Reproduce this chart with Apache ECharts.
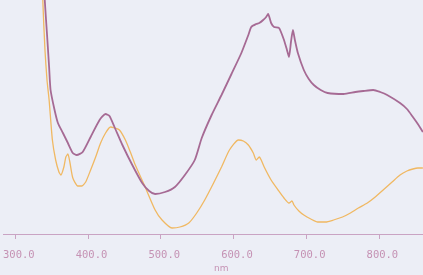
<!DOCTYPE html>
<html><head><meta charset="utf-8">
<script src="https://cdn.jsdelivr.net/npm/echarts@6/dist/echarts.min.js"></script>
<style>html,body{margin:0;padding:0;background:#eceef6;}#c{width:423px;height:275px;}</style>
</head><body><div id="c"></div>
<script>
// wavelength (nm), absorbance (arbitrary units)
var purpleSeries = [
[338.2,2.74],[340.5,2.34],[343.5,2.01],[346.5,1.67],[348.5,1.44],[354.0,1.24],[358.6,1.11],[365.5,1.01],
[372.3,0.91],[379.1,0.81],[384.5,0.79],[392.7,0.82],[403.6,0.97],[415.9,1.14],[424.1,1.20],[429.5,1.18],
[436.4,1.07],[447.3,0.89],[460.9,0.69],[474.5,0.51],[484.1,0.43],[492.3,0.40],[505.9,0.42],[519.5,0.47],
[533.2,0.59],[546.8,0.74],[556.4,0.96],[570.0,1.19],[583.6,1.39],[597.3,1.60],[610.9,1.81],[620.5,1.99],
[624.5,2.07],[631.4,2.10],[635.5,2.11],[640.9,2.14],[645.0,2.17],[647.7,2.20],[651.8,2.11],[655.9,2.07],
[662.7,2.06],[669.5,1.94],[673.6,1.84],[676.4,1.77],[679.1,1.92],[681.8,2.04],[684.5,1.94],[688.6,1.81],
[696.8,1.64],[703.6,1.55],[710.5,1.49],[720.0,1.44],[729.5,1.41],[751.4,1.40],[767.7,1.42],[778.6,1.43],
[792.3,1.44],[801.8,1.42],[811.4,1.39],[829.1,1.31],[838.6,1.25],[846.8,1.17],[853.6,1.10],[860.5,1.02]
];
var orangeSeries = [
[337.0,2.74],[337.8,2.34],[340.8,1.84],[343.6,1.54],[346.5,1.34],[351.0,0.94],[355.5,0.74],[360.0,0.62],
[362.7,0.59],[366.8,0.67],[369.5,0.77],[372.3,0.80],[375.0,0.72],[379.1,0.56],[385.9,0.48],[391.4,0.48],
[396.8,0.52],[403.6,0.64],[410.5,0.77],[417.3,0.91],[424.1,1.01],[430.9,1.07],[436.4,1.06],[443.2,1.04],
[451.4,0.94],[458.2,0.82],[465.0,0.69],[478.6,0.47],[492.3,0.24],[501.8,0.14],[515.5,0.06],[526.4,0.07],
[538.6,0.11],[549.5,0.21],[560.5,0.34],[572.7,0.51],[583.6,0.67],[594.5,0.84],[606.8,0.94],[613.6,0.93],
[620.5,0.89],[627.3,0.81],[631.4,0.74],[635.5,0.77],[638.2,0.74],[642.3,0.67],[651.8,0.54],[661.4,0.44],
[669.5,0.36],[676.4,0.31],[680.5,0.33],[683.2,0.29],[690.0,0.23],[696.8,0.19],[706.4,0.15],[715.9,0.12],
[726.8,0.12],[737.7,0.14],[750.0,0.17],[760.9,0.21],[771.8,0.26],[784.1,0.31],[795.0,0.37],[805.9,0.44],
[818.2,0.52],[829.1,0.59],[838.6,0.63],[846.8,0.65],[853.6,0.66],[860.5,0.66]
];
var tickValues = [300, 400, 500, 600, 700, 800];
var axisName = 'nm';

var chart = echarts.init(document.getElementById('c'));
chart.setOption({
  backgroundColor: '#eceef6',
  animation: false,
  grid: {left: 0, right: 0, top: 0, bottom: 41},
  xAxis: {
    type: 'value', min: 283.6, max: 860.7,
    axisLine: {show: true, onZero: false, lineStyle: {color: '#c9a3c3', width: 1}},
    axisTick: {show: true, customValues: tickValues, length: 5, lineStyle: {color: '#c9a3c3'}},
    axisLabel: {customValues: tickValues, margin: 16, color: '#c592b4', fontFamily: 'DejaVu Sans Mono', fontSize: 10.5,
      padding: [0, 0, 0, 7], formatter: function (v) { return v.toFixed(1); }},
    splitLine: {show: false}
  },
  yAxis: {type: 'value', min: 0, max: 2.34, show: false, splitLine: {show: false}},
  graphic: [{type: 'text', left: 214, top: 264, style: {text: axisName, fill: '#c592b4', font: '9px "DejaVu Sans"'}}],
  series: [
    {type: 'line', data: orangeSeries, showSymbol: false, smooth: 0.2, clip: true,
      lineStyle: {color: '#f0b862', width: 1.3}},
    {type: 'line', data: purpleSeries, showSymbol: false, smooth: 0.2, clip: true,
      lineStyle: {color: '#a66a94', width: 1.8}}
  ]
});
</script></body></html>
